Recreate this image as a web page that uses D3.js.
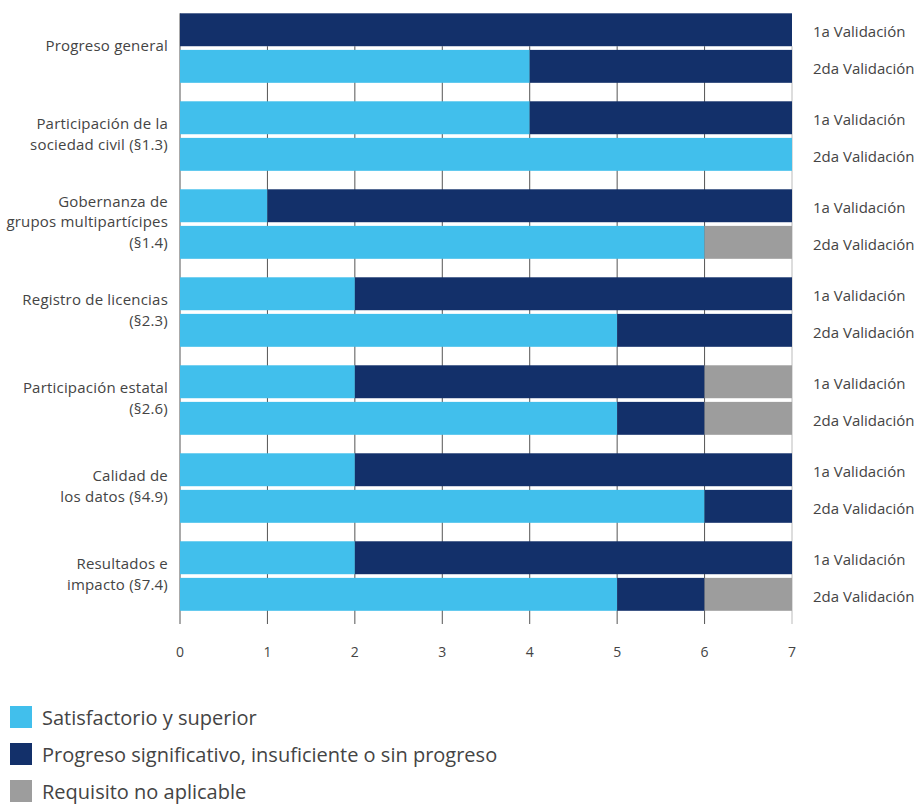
<!DOCTYPE html>
<html lang="es">
<head>
  <meta charset="UTF-8">
  <title>Validación</title>
  <script src="https://d3js.org/d3.v7.min.js"></script>
  <style>
    body { margin: 0; background: #fff; }
    text { font-family: 'Open Sans', sans-serif; }
  </style>
</head>
<body>
<div class="canvas"></div>
<script>
  // categorías (líneas de la etiqueta separadas por |)
  const categories = [
    'Progreso general',
    'Participación de la|sociedad civil (§1.3)',
    'Gobernanza de|grupos multipartícipes|(§1.4)',
    'Registro de licencias|(§2.3)',
    'Participación estatal|(§2.6)',
    'Calidad de|los datos (§4.9)',
    'Resultados e|impacto (§7.4)'
  ]
  const validations = ['1a Validación', '2da Validación']
  const seriesNames = ['Satisfactorio y superior', 'Progreso significativo, insuficiente o sin progreso', 'Requisito no aplicable']

  // [1a, 2da] por categoría
  const satisfactorio = [[0, 4], [4, 7], [1, 6], [2, 5], [2, 5], [2, 6], [2, 5]]
  const progreso      = [[7, 3], [3, 0], [6, 0], [5, 2], [4, 1], [5, 1], [5, 1]]
  const noAplicable   = [[0, 0], [0, 0], [0, 1], [0, 0], [1, 1], [0, 0], [0, 1]]
  const ticks = [0, 1, 2, 3, 4, 5, 6, 7]

  const colors = ['#41bfec', '#13306a', '#9d9d9d']

  const width = 920, height = 805

  const svg = d3.select('.canvas')
    .append('svg')
    .attr('width', width)
    .attr('height', height)

  const x = d3.scaleLinear().domain([0, 7]).range([180, 792])

  const y = d3.scaleBand()
    .domain(categories)
    .range([13.3, 610.8])
    .paddingInner(0.21)
    .paddingOuter(0)

  const yInner = d3.scaleBand()
    .domain(validations)
    .range([0, y.bandwidth()])
    .paddingInner(0.1)

  // filas: una por categoría y validación
  const rows = []
  categories.forEach((c, i) => {
    validations.forEach((v, j) => {
      rows.push({ cat: c, val: v, values: [satisfactorio[i][j], progreso[i][j], noAplicable[i][j]] })
    })
  })

  // líneas de cuadrícula
  const grid = svg.append('g')
  grid.selectAll('line')
    .data(ticks)
    .enter()
    .append('line')
    .attr('x1', d => x(d))
    .attr('x2', d => x(d))
    .attr('y1', d => d === 0 ? y.range()[0] : y.range()[0] + yInner.bandwidth())
    .attr('y2', 624)
    .attr('stroke', d => d === 7 ? '#bbb' : '#555')
    .attr('stroke-width', 1)

  grid.selectAll('text')
    .data(ticks)
    .enter()
    .append('text')
    .attr('x', d => x(d))
    .attr('y', 657)
    .attr('text-anchor', 'middle')
    .attr('fill', '#444')
    .style('font-size', '14px')
    .text(d => d)

  // barras apiladas
  const rowG = svg.selectAll('.row')
    .data(rows)
    .enter()
    .append('g')
    .attr('class', 'row')
    .attr('transform', d => `translate(0, ${y(d.cat) + yInner(d.val)})`)

  rowG.selectAll('rect')
    .data(d => {
      let acc = 0
      return d.values.map((v, k) => {
        const s = { x0: acc, x1: acc + v, k }
        acc += v
        return s
      }).filter(s => s.x1 > s.x0)
    })
    .enter()
    .append('rect')
    .attr('x', d => x(d.x0))
    .attr('width', d => x(d.x1) - x(d.x0))
    .attr('height', yInner.bandwidth())
    .attr('fill', d => colors[d.k])

  rowG.append('text')
    .attr('x', 813)
    .attr('y', yInner.bandwidth() / 2 + 2)
    .attr('dy', '0.35em')
    .attr('fill', '#444')
    .style('font-size', '15px')
    .text(d => d.val)

  // etiquetas de categoría
  const lineH = 20.5
  svg.selectAll('.cat')
    .data(categories)
    .enter()
    .append('text')
    .attr('class', 'cat')
    .attr('text-anchor', 'end')
    .attr('fill', '#444')
    .style('font-size', '15px')
    .style('letter-spacing', '0.2px')
    .each(function (d) {
      const lines = d.split('|')
      const cy = y(d) + y.bandwidth() / 2 - 2
      const t = d3.select(this)
      lines.forEach((l, i) => {
        t.append('tspan')
          .attr('x', 168)
          .attr('y', cy + (i - (lines.length - 1) / 2) * lineH)
          .attr('dy', '0.35em')
          .text(l)
      })
    })

  // leyenda
  const legend = svg.selectAll('.legend')
    .data(seriesNames)
    .enter()
    .append('g')
    .attr('class', 'legend')
    .attr('transform', (d, i) => `translate(10, ${706 + i * 37})`)

  legend.append('rect')
    .attr('width', 22)
    .attr('height', 22)
    .attr('fill', (d, i) => colors[i])

  legend.append('text')
    .attr('x', 32)
    .attr('y', 12)
    .attr('dy', '0.35em')
    .attr('fill', '#444')
    .style('font-size', '20px')
    .text(d => d)
</script>
</body>
</html>
